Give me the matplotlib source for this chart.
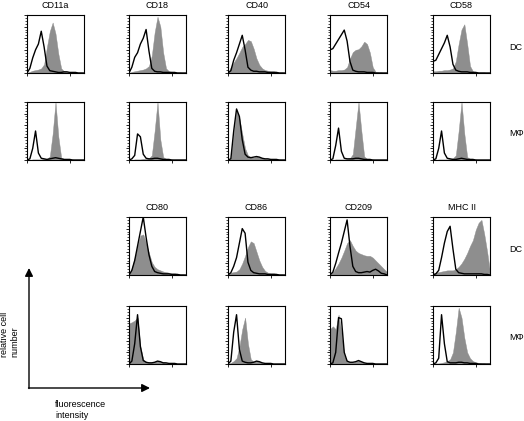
import numpy as np
import matplotlib
matplotlib.use('Agg')
import matplotlib.pyplot as plt

plt.rcParams['font.family'] = ['Liberation Sans', 'DejaVu Sans']

# Données : intensité de fluorescence (décades log10), comptes relatifs
log_intensity = [0.0, 0.2, 0.4, 0.6, 0.8, 1.0, 1.2, 1.4, 1.6, 1.8, 2.0,
                 2.2, 2.4, 2.6, 2.8, 3.0, 3.2, 3.4, 3.6, 3.8, 4.0]

markers_top = ['CD11a', 'CD18', 'CD40', 'CD54', 'CD58']
markers_bottom = ['CD80', 'CD86', 'CD209', 'MHC II']
cell_types = ['DC', 'M\u03a6']

# DC, premier groupe (anticorps = gris, isotype = trait noir)
cd11a_dc_fill = [0, 0.02, 0.04, 0.05, 0.06, 0.08, 0.15, 0.45, 0.72, 0.87, 0.68, 0.33, 0.08, 0.03, 0.02, 0.02, 0.02, 0.01, 0.01, 0.01, 0]
cd11a_dc_open = [0, 0.08, 0.26, 0.4, 0.5, 0.72, 0.45, 0.12, 0.04, 0.03, 0.02, 0.01, 0.01, 0.02, 0.02, 0.01, 0.01, 0.01, 0, 0, 0]
cd18_dc_fill = [0, 0.02, 0.03, 0.04, 0.05, 0.06, 0.08, 0.12, 0.3, 0.7, 0.97, 0.8, 0.35, 0.08, 0.03, 0.02, 0.01, 0.01, 0.01, 0, 0]
cd18_dc_open = [0, 0.1, 0.27, 0.35, 0.5, 0.6, 0.75, 0.38, 0.08, 0.03, 0.02, 0.02, 0.01, 0.01, 0.01, 0.01, 0.01, 0, 0, 0, 0]
cd40_dc_fill = [0, 0.1, 0.18, 0.26, 0.35, 0.45, 0.5, 0.57, 0.55, 0.42, 0.25, 0.14, 0.08, 0.05, 0.04, 0.03, 0.03, 0.02, 0.01, 0.01, 0]
cd40_dc_open = [0, 0.04, 0.22, 0.35, 0.5, 0.65, 0.4, 0.1, 0.05, 0.03, 0.03, 0.02, 0.02, 0.02, 0.01, 0.01, 0.01, 0.01, 0, 0, 0]
cd54_dc_fill = [0.05, 0.04, 0.04, 0.05, 0.05, 0.06, 0.1, 0.25, 0.36, 0.4, 0.41, 0.46, 0.54, 0.5, 0.35, 0.1, 0.02, 0.01, 0.01, 0, 0]
cd54_dc_open = [0.4, 0.42, 0.5, 0.58, 0.66, 0.74, 0.55, 0.2, 0.05, 0.03, 0.02, 0.02, 0.02, 0.01, 0.01, 0.01, 0, 0, 0, 0, 0]
cd58_dc_fill = [0.03, 0.03, 0.04, 0.04, 0.05, 0.05, 0.06, 0.08, 0.2, 0.5, 0.75, 0.84, 0.5, 0.12, 0.03, 0.02, 0.01, 0.01, 0.01, 0, 0]
cd58_dc_open = [0.2, 0.22, 0.32, 0.42, 0.52, 0.65, 0.45, 0.15, 0.05, 0.03, 0.02, 0.02, 0.02, 0.01, 0.01, 0.01, 0, 0, 0, 0, 0]

# Macrophages, premier groupe
cd11a_mp_fill = [0, 0, 0.01, 0.01, 0.01, 0.01, 0.02, 0.02, 0.06, 0.45, 1.0, 0.4, 0.04, 0.02, 0.01, 0.01, 0.01, 0, 0, 0, 0]
cd11a_mp_open = [0, 0.02, 0.2, 0.5, 0.12, 0.03, 0.02, 0.01, 0.02, 0.03, 0.04, 0.03, 0.02, 0.01, 0.01, 0.01, 0, 0, 0, 0, 0]
cd18_mp_fill = [0, 0, 0.01, 0.01, 0.01, 0.02, 0.02, 0.03, 0.08, 0.5, 1.0, 0.35, 0.05, 0.02, 0.01, 0.01, 0, 0, 0, 0, 0]
cd18_mp_open = [0, 0.02, 0.08, 0.45, 0.4, 0.1, 0.03, 0.02, 0.02, 0.03, 0.03, 0.02, 0.01, 0.01, 0.01, 0, 0, 0, 0, 0, 0]
cd40_mp_fill = [0, 0.02, 0.45, 0.85, 0.72, 0.45, 0.2, 0.08, 0.05, 0.04, 0.06, 0.05, 0.03, 0.02, 0.02, 0.01, 0.01, 0.01, 0.01, 0, 0]
cd40_mp_open = [0, 0.02, 0.5, 0.88, 0.75, 0.35, 0.1, 0.05, 0.04, 0.05, 0.06, 0.05, 0.03, 0.02, 0.02, 0.01, 0.01, 0.01, 0, 0, 0]
cd54_mp_fill = [0, 0, 0.01, 0.01, 0.01, 0.01, 0.02, 0.03, 0.1, 0.55, 1.0, 0.5, 0.06, 0.02, 0.01, 0.01, 0, 0, 0, 0, 0]
cd54_mp_open = [0, 0.02, 0.25, 0.55, 0.15, 0.03, 0.02, 0.02, 0.02, 0.03, 0.03, 0.02, 0.01, 0.01, 0.01, 0, 0, 0, 0, 0, 0]
cd58_mp_fill = [0, 0, 0.01, 0.01, 0.01, 0.01, 0.02, 0.03, 0.08, 0.5, 1.0, 0.45, 0.05, 0.02, 0.01, 0.01, 0, 0, 0, 0, 0]
cd58_mp_open = [0, 0.02, 0.2, 0.5, 0.12, 0.03, 0.02, 0.01, 0.01, 0.02, 0.03, 0.02, 0.01, 0.01, 0.01, 0, 0, 0, 0, 0, 0]

# DC, second groupe
cd80_dc_fill = [0, 0.12, 0.3, 0.5, 0.68, 0.7, 0.55, 0.38, 0.22, 0.14, 0.1, 0.08, 0.06, 0.05, 0.04, 0.03, 0.03, 0.02, 0.01, 0.01, 0]
cd80_dc_open = [0, 0.08, 0.25, 0.5, 0.75, 1.0, 0.65, 0.35, 0.15, 0.06, 0.04, 0.03, 0.02, 0.02, 0.02, 0.01, 0.01, 0.01, 0, 0, 0]
cd86_dc_fill = [0, 0.04, 0.05, 0.06, 0.1, 0.2, 0.33, 0.48, 0.58, 0.55, 0.4, 0.25, 0.14, 0.07, 0.04, 0.03, 0.03, 0.02, 0.01, 0.01, 0]
cd86_dc_open = [0, 0.04, 0.15, 0.3, 0.55, 0.8, 0.72, 0.22, 0.08, 0.04, 0.03, 0.02, 0.02, 0.02, 0.01, 0.01, 0.01, 0.01, 0, 0, 0]
cd209_dc_fill = [0, 0.05, 0.12, 0.2, 0.3, 0.42, 0.55, 0.6, 0.5, 0.42, 0.38, 0.36, 0.34, 0.33, 0.33, 0.3, 0.25, 0.2, 0.15, 0.1, 0.05]
cd209_dc_open = [0, 0.05, 0.2, 0.38, 0.55, 0.75, 0.95, 0.5, 0.15, 0.06, 0.04, 0.04, 0.05, 0.06, 0.05, 0.08, 0.1, 0.07, 0.03, 0.02, 0]
mhc2_dc_fill = [0.03, 0.04, 0.05, 0.06, 0.07, 0.08, 0.08, 0.08, 0.1, 0.14, 0.2, 0.28, 0.38, 0.5, 0.6, 0.78, 0.9, 0.95, 0.7, 0.4, 0.05]
mhc2_dc_open = [0, 0.02, 0.08, 0.3, 0.55, 0.75, 0.84, 0.45, 0.1, 0.04, 0.03, 0.02, 0.02, 0.02, 0.02, 0.02, 0.02, 0.02, 0.01, 0.01, 0]

# Macrophages, second groupe
cd80_mp_fill = [0.7, 0.72, 0.75, 0.8, 0.3, 0.08, 0.04, 0.03, 0.03, 0.04, 0.05, 0.04, 0.03, 0.02, 0.01, 0.01, 0.01, 0, 0, 0, 0]
cd80_mp_open = [0, 0.05, 0.35, 0.85, 0.3, 0.06, 0.03, 0.02, 0.02, 0.03, 0.05, 0.04, 0.02, 0.02, 0.01, 0.01, 0.01, 0, 0, 0, 0]
cd86_mp_fill = [0, 0.02, 0.05, 0.1, 0.3, 0.6, 0.8, 0.35, 0.08, 0.04, 0.05, 0.04, 0.02, 0.01, 0.01, 0.01, 0, 0, 0, 0, 0]
cd86_mp_open = [0, 0.05, 0.55, 0.85, 0.25, 0.05, 0.03, 0.02, 0.02, 0.03, 0.05, 0.04, 0.02, 0.01, 0.01, 0.01, 0, 0, 0, 0, 0]
cd209_mp_fill = [0.6, 0.65, 0.6, 0.85, 0.55, 0.15, 0.05, 0.03, 0.03, 0.04, 0.06, 0.04, 0.02, 0.01, 0.01, 0.01, 0, 0, 0, 0, 0]
cd209_mp_open = [0, 0.02, 0.2, 0.8, 0.78, 0.2, 0.05, 0.03, 0.03, 0.04, 0.06, 0.04, 0.02, 0.01, 0.01, 0.01, 0, 0, 0, 0, 0]
mhc2_mp_fill = [0, 0.01, 0.01, 0.02, 0.03, 0.05, 0.08, 0.2, 0.55, 0.97, 0.8, 0.45, 0.2, 0.1, 0.05, 0.03, 0.02, 0.01, 0.01, 0, 0]
mhc2_mp_open = [0, 0.02, 0.1, 0.85, 0.35, 0.04, 0.02, 0.02, 0.02, 0.03, 0.03, 0.02, 0.02, 0.01, 0.01, 0.01, 0, 0, 0, 0, 0]

top_panels = [
    [(cd11a_dc_fill, cd11a_dc_open), (cd18_dc_fill, cd18_dc_open), (cd40_dc_fill, cd40_dc_open),
     (cd54_dc_fill, cd54_dc_open), (cd58_dc_fill, cd58_dc_open)],
    [(cd11a_mp_fill, cd11a_mp_open), (cd18_mp_fill, cd18_mp_open), (cd40_mp_fill, cd40_mp_open),
     (cd54_mp_fill, cd54_mp_open), (cd58_mp_fill, cd58_mp_open)],
]
bottom_panels = [
    [(cd80_dc_fill, cd80_dc_open), (cd86_dc_fill, cd86_dc_open),
     (cd209_dc_fill, cd209_dc_open), (mhc2_dc_fill, mhc2_dc_open)],
    [(cd80_mp_fill, cd80_mp_open), (cd86_mp_fill, cd86_mp_open),
     (cd209_mp_fill, cd209_mp_open), (mhc2_mp_fill, mhc2_mp_open)],
]

# Mise en page (pixels)
W, H = 524, 421
col_left = [27, 129, 228, 330, 433]
row_top = [15, 102, 217, 306]
pw, ph = 57, 58
fs = 6.5
gray = '#8e8e8e'

fig = plt.figure(figsize=(W / 100, H / 100), dpi=100)
over = fig.add_axes([0, 0, 1, 1])
over.set_xlim(0, W)
over.set_ylim(H, 0)
over.axis('off')

intensity = 10 ** np.array(log_intensity)


def histo(left, top, fill, line):
    ax = fig.add_axes([left / W, 1 - (top + ph) / H, pw / W, ph / H])
    ax.fill_between(intensity, fill, color=gray, lw=0.3, edgecolor=gray)
    ax.plot(intensity, line, color='k', lw=1.0)
    ax.set_xscale('log')
    ax.set_xlim(1, 1e4)
    ax.set_ylim(0, 1.0)
    ax.set_yticks(np.arange(0, 1.01, 0.2))
    ax.set_yticks(np.arange(0, 1.01, 0.05), minor=True)
    ax.tick_params(which='major', direction='out', length=2.5, width=0.6,
                   labelbottom=False, labelleft=False)
    ax.tick_params(which='minor', direction='out', length=1.3, width=0.5)
    for s in ax.spines.values():
        s.set_linewidth(0.8)
    return ax


for r, row in enumerate(top_panels):
    for c, (f, l) in enumerate(row):
        histo(col_left[c], row_top[r], f, l)
for r, row in enumerate(bottom_panels):
    for c, (f, l) in enumerate(row):
        histo(col_left[c + 1], row_top[r + 2], f, l)

# Titres
for c, name in enumerate(markers_top):
    over.text(col_left[c] + pw / 2, row_top[0] - 10, name, ha='center', va='center', fontsize=fs)
for c, name in enumerate(markers_bottom):
    over.text(col_left[c + 1] + pw / 2, row_top[2] - 10, name, ha='center', va='center', fontsize=fs)
for r in range(4):
    over.text(509, row_top[r] + ph / 2 + 3, cell_types[r % 2], ha='left', va='center', fontsize=fs)

# Flèches des axes
over.annotate('', xy=(29, 268), xytext=(29, 388.5),
              arrowprops=dict(arrowstyle='-|>', lw=1.0, color='k', mutation_scale=12, shrinkA=0, shrinkB=0))
over.annotate('', xy=(150, 388), xytext=(28.5, 388),
              arrowprops=dict(arrowstyle='-|>', lw=1.0, color='k', mutation_scale=12, shrinkA=0, shrinkB=0))
over.text(10, 334, 'relative cell\nnumber', rotation=90, ha='center', va='center', fontsize=fs,
          multialignment='left')
over.text(55, 410, 'fluorescence\nintensity', ha='left', va='center', fontsize=fs, linespacing=1.2)

plt.savefig('out.png', dpi=100)
